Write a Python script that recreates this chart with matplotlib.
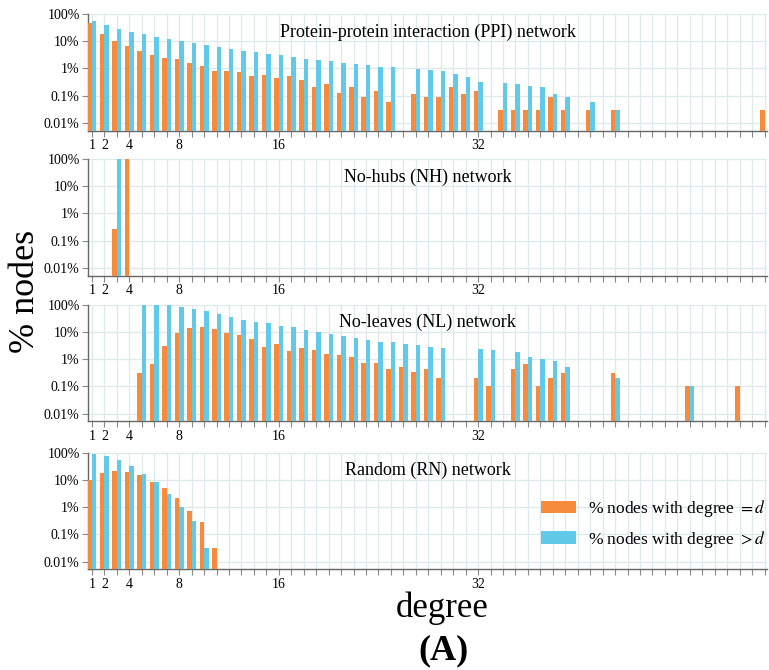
import numpy as np
import matplotlib
matplotlib.use("Agg")
import matplotlib.pyplot as plt
from matplotlib.ticker import FixedLocator, FuncFormatter, LogLocator, NullFormatter
from matplotlib.patches import Patch

nan = np.nan

# percent of nodes, degree = d (orange) and degree > d (blue); NaN = no bar
ppi_deg = list(range(1, 56))
ppi_eq = [45, 19, 10.5, 6.5, 4.5, 3.2, 2.5, 2.3, 1.6, 1.2, 0.82, 0.78, 0.72, 0.51, 0.57,
          0.43, 0.51, 0.37, 0.21, 0.27, 0.12, 0.21, 0.09, 0.15, 0.06,
          nan, 0.118, 0.089, 0.089, 0.21, 0.118, 0.152, nan, 0.03, 0.03, 0.03, 0.03,
          0.089, 0.03, nan, 0.03, nan, 0.03] + [nan] * 11 + [0.03]
ppi_gt = [57, 39, 28, 22, 18, 14.6, 11.6, 9.8, 8.3, 7.0, 6.0, 5.2, 4.5, 4.1, 3.5,
          3.15, 2.6, 2.2, 2.0, 1.8, 1.64, 1.42, 1.31, 1.17, 1.1,
          nan, 0.99, 0.91, 0.81, 0.61, 0.47, 0.33, nan, 0.30, 0.27, 0.23, 0.21,
          0.118, 0.089, nan, 0.06, nan, 0.03] + [nan] * 12

nh_deg = [3, 4]
nh_eq = [0.26, 99.74]
nh_gt = [99.74, nan]

nl_deg = list(range(5, 54))
nl_eq = [0.32, 0.65, 3.1, 9.1, 13.5, 14.7, 12.8, 8.9, 7.7, 5.5, 2.9, 3.7, 2.0, 2.6, 2.1,
         1.5, 1.38, 1.17, 0.75, 0.75, 0.43, 0.53, 0.33, 0.42, 0.21, nan, nan, 0.21, 0.10,
         nan, 0.42, 0.65, 0.10, 0.21, 0.32, nan, nan, nan, 0.32,
         nan, nan, nan, nan, nan, 0.10, nan, nan, nan, 0.10]
nl_gt = [99.7, 99, 95, 85, 71, 57, 45, 36, 28, 23, 20.6, 16.5, 14.7, 11.8, 9.9,
         8.4, 7.1, 6.0, 5.2, 4.4, 4.1, 3.6, 3.2, 2.8, 2.6, nan, nan, 2.3, 2.2,
         nan, 1.78, 1.17, 1.05, 0.86, 0.52, nan, nan, nan, 0.21,
         nan, nan, nan, nan, nan, 0.10, nan, nan, nan, nan]

rn_deg = list(range(1, 12))
rn_eq = [10, 18.4, 21, 20, 15, 8.6, 5.0, 2.1, 0.71, 0.28, 0.031]
rn_gt = [89, 73, 52, 32, 16.9, 8.1, 3.1, 1.0, 0.305, 0.031, nan]

titles = ["Protein-protein interaction (PPI) network", "No-hubs (NH) network",
          "No-leaves (NL) network", "Random (RN) network"]
panels = [(ppi_deg, ppi_eq, ppi_gt), (nh_deg, nh_eq, nh_gt),
          (nl_deg, nl_eq, nl_gt), (rn_deg, rn_eq, rn_gt)]
labeled_x = [1, 2, 4, 8, 16, 32]
ytick_vals = [0.01, 0.1, 1, 10, 100]
ytick_text = ["0.01%", "0.1%", "1%", "10%", "100%"]

ORANGE = "#F68B3E"
BLUE = "#63C9E9"
GRID = "#dde9ea"

plt.rcParams["font.family"] = ["Liberation Serif", "DejaVu Serif"]
plt.rcParams["mathtext.fontset"] = "stix"

W, H = 769, 670
fig = plt.figure(figsize=(W / 100, H / 100), dpi=100)

tops = [14, 159, 304.7, 452.7]
ph = 116.6
x0, x1 = 88, 767
bw = 0.36

for k, (deg, eq, gt) in enumerate(panels):
    ax = fig.add_axes([x0 / W, 1 - (tops[k] + ph) / H, (x1 - x0) / W, ph / H])
    ax.set_yscale("log")
    deg = np.array(deg, dtype=float)
    ax.bar(deg - bw, eq, width=bw, align="edge", color=ORANGE, zorder=3)
    ax.bar(deg, gt, width=bw, align="edge", color=BLUE, zorder=3)
    ax.set_xlim(0.68, 55.2)
    ax.set_ylim(0.0052, 100)

    ax.xaxis.set_major_locator(FixedLocator(range(1, 56)))
    ax.xaxis.set_major_formatter(
        FuncFormatter(lambda v, p: f"{int(round(v))}" if int(round(v)) in labeled_x else ""))
    ax.yaxis.set_major_locator(FixedLocator(ytick_vals))
    ax.set_yticklabels(ytick_text)
    ax.yaxis.set_minor_locator(LogLocator(base=10, subs=np.arange(2, 10)))
    ax.yaxis.set_minor_formatter(NullFormatter())

    ax.grid(True, which="major", color=GRID, lw=0.9, zorder=0)
    ax.set_axisbelow(True)
    ax.tick_params(axis="x", which="major", length=4, width=0.8, color="#888888",
                   labelsize=10, pad=2)
    ax.tick_params(axis="y", which="major", length=4, width=0.8, color="#888888",
                   labelsize=10, pad=2)
    ax.tick_params(axis="y", which="minor", length=2, width=0.6, color="#888888")
    for s in ("top", "right"):
        ax.spines[s].set_visible(False)
    for s in ("left", "bottom"):
        ax.spines[s].set_color("#666666")
        ax.spines[s].set_linewidth(1.0)

    ax.text(0.5, 0.845, titles[k], transform=ax.transAxes, ha="center", va="center",
            fontsize=13, zorder=5)

    if k == 3:
        handles = [Patch(facecolor=ORANGE, edgecolor="none"),
                   Patch(facecolor=BLUE, edgecolor="none")]
        ax.legend(handles, ["% nodes with degree $= d$", "% nodes with degree $> d$"],
                  loc="upper left", bbox_to_anchor=(0.667, 0.61), frameon=False,
                  fontsize=12.5, handlelength=2.0, handleheight=0.75,
                  handletextpad=0.7, labelspacing=0.55, borderpad=0, borderaxespad=0)

fig.text(25 / W, 1 - 291 / H, "% nodes", rotation=90, ha="center", va="center",
         fontsize=26)
fig.text(442 / W, 1 - 608 / H, "degree", ha="center", va="center", fontsize=25)
fig.text(443 / W, 1 - 651 / H, "(A)", ha="center", va="center", fontsize=26,
         fontweight="bold")

fig.savefig("out.png", dpi=100)
